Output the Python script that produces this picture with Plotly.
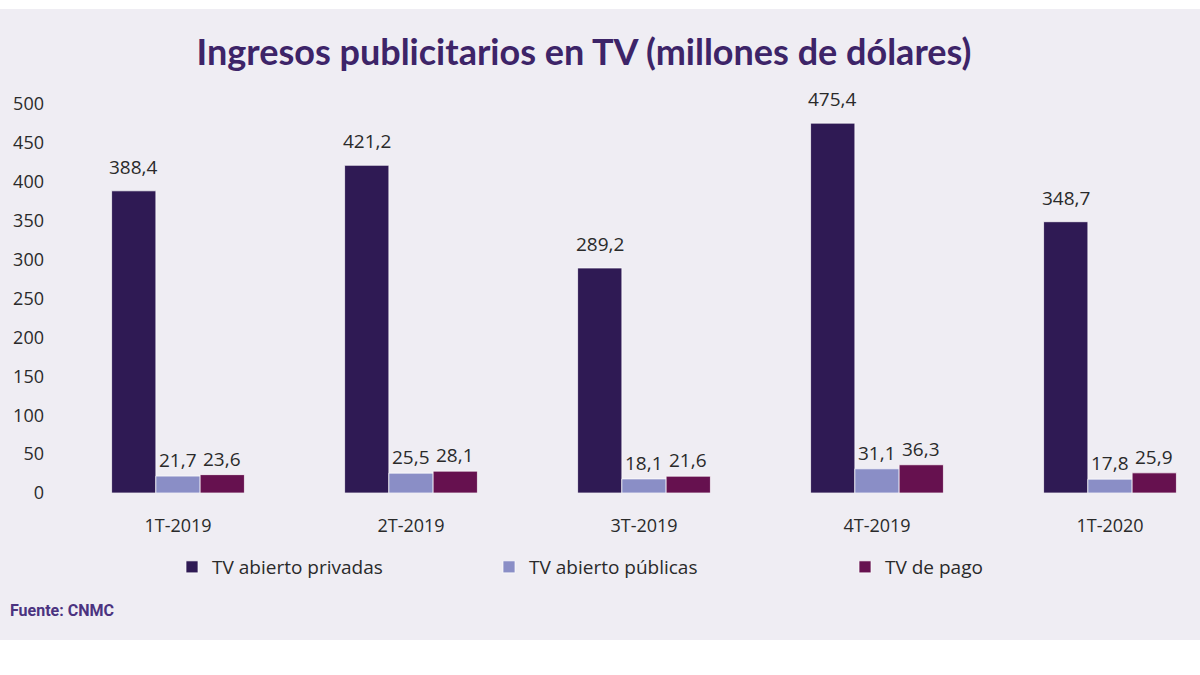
import plotly.graph_objects as go

categories = ["1T-2019", "2T-2019", "3T-2019", "4T-2019", "1T-2020"]
series_names = ["TV abierto privadas", "TV abierto públicas", "TV de pago"]
privadas = [388.4, 421.2, 289.2, 475.4, 348.7]
publicas = [21.7, 25.5, 18.1, 31.1, 17.8]
pago = [23.6, 28.1, 21.6, 36.3, 25.9]
y_ticks = [0, 50, 100, 150, 200, 250, 300, 350, 400, 450, 500]

series_values = [privadas, publicas, pago]
colors = ["#2f1a54", "#8a8ec6", "#66114f"]
BG = "#efedf3"

W, H = 1200, 675
ML, MR, MT, MB = 50, 0, 90, 182
PW = W - ML - MR
PH = H - MT - MB

def fmt(v):
    return f"{v:.1f}".replace(".", ",")

fig = go.Figure()
legend_ids = ["legend", "legend2", "legend3"]
for name, vals, col, lg in zip(series_names, series_values, colors, legend_ids):
    fig.add_trace(go.Bar(
        x=categories, y=vals, name=name, showlegend=True,
        marker=dict(color=col, line=dict(color="rgba(255,255,255,0.7)", width=1)),
        legend=lg, hoverinfo="x+y+name",
    ))

# data labels
bar_px = 0.57 * (PW / 4.935) / 3
annotations = []
for i, vals in enumerate(series_values):
    for c, v in zip(categories, vals):
        annotations.append(dict(
            x=c, y=v, xref="x", yref="y", text=fmt(v), showarrow=False,
            xshift=(i - 1) * bar_px, yanchor="bottom",
            yshift=9 if i == 0 else 1,
            font=dict(family="Open Sans", size=19, color="#2a2a2a"),
        ))

annotations.append(dict(
    x=(8 - ML) / PW, y=(MT + PH - 610) / PH, xref="paper", yref="paper",
    xanchor="left", yanchor="middle", showarrow=False,
    text="<b>Fuente: CNMC</b>",
    font=dict(family="Roboto", size=16, color="#4b3380"),
))

# background panel
shapes = [dict(
    type="rect", xref="paper", yref="paper", layer="below",
    x0=-ML / PW, x1=1 + MR / PW,
    y0=(MT + PH - 640) / PH, y1=(MT + PH - 9) / PH,
    fillcolor=BG, line=dict(width=0),
)]

leg_font = dict(family="Open Sans", size=19, color="#2a2a2a")
def leg(px):
    return dict(orientation="h", x=(px - ML) / PW, xanchor="left",
                y=(MT + PH - 567) / PH, yanchor="middle",
                bgcolor="rgba(0,0,0,0)", font=leg_font, itemwidth=30)

fig.update_layout(
    width=W, height=H, showlegend=True,
    margin=dict(l=ML, r=MR, t=MT, b=MB),
    paper_bgcolor="white", plot_bgcolor=BG,
    barmode="group", bargap=0.43, bargroupgap=0,
    title=dict(text="<b>Ingresos publicitarios en TV (millones de dólares)</b>",
               x=584 / W, xanchor="center", y=1 - 52 / H, yanchor="middle",
               font=dict(family="Lato", size=36, color="#3d2468")),
    xaxis=dict(type="category", range=[-(178 - ML) / 233, -(178 - ML) / 233 + PW / 233],
               showgrid=False, showline=False, zeroline=False, ticks="",
               ticklabelstandoff=20,
               tickfont=dict(family="Open Sans", size=18, color="#2a2a2a")),
    yaxis=dict(range=[0, 500 * PH / 389], tickvals=y_ticks, showgrid=False,
               showline=False, zeroline=False, ticks="", ticklabelstandoff=5,
               tickfont=dict(family="Open Sans", size=18, color="#2a2a2a")),
    legend=leg(172),
    legend2=leg(489),
    legend3=leg(845),
    annotations=annotations,
    shapes=shapes,
)

fig.write_html("out.html", config={"displayModeBar": False},
               post_script="document.body.style.margin='0';document.body.style.overflow='hidden';")
